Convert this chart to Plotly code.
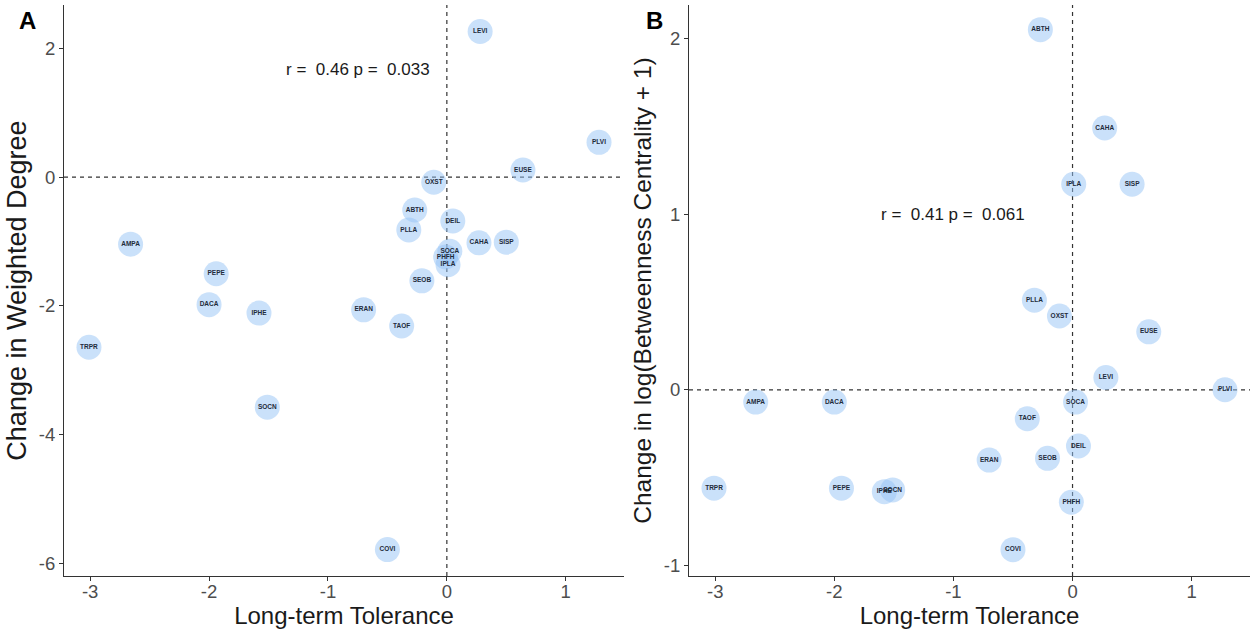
import plotly.graph_objects as go

# Species codes and their long-term tolerance (shared x values)
species = ["TRPR", "AMPA", "DACA", "PEPE", "IPHE", "SOCN", "ERAN", "COVI", "TAOF",
           "PLLA", "ABTH", "SEOB", "OXST", "PHFH", "IPLA", "SOCA", "DEIL", "CAHA",
           "LEVI", "SISP", "EUSE", "PLVI"]
tolerance = [-3.01, -2.66, -2.00, -1.94, -1.58, -1.51, -0.70, -0.50, -0.38,
             -0.32, -0.27, -0.21, -0.11, -0.01, 0.01, 0.025, 0.05, 0.27,
             0.28, 0.50, 0.64, 1.28]

# Panel A: change in weighted degree
weighted_degree_change = [-2.64, -1.04, -1.98, -1.50, -2.11, -3.57, -2.06, -5.78, -2.31,
                          -0.82, -0.51, -1.61, -0.08, -1.24, -1.36, -1.15, -0.68, -1.02,
                          2.26, -1.01, 0.11, 0.54]

# Panel B: change in log(betweenness centrality + 1)
betweenness_change = [-0.56, -0.07, -0.07, -0.56, -0.58, -0.57, -0.40, -0.91, -0.165,
                      0.51, 2.05, -0.39, 0.42, -0.64, 1.17, -0.07, -0.32, 1.49,
                      0.07, 1.17, 0.33, 0.0]

# Tick positions and labels
x_ticks = [-3, -2, -1, 0, 1]
y_ticks_a = [-6, -4, -2, 0, 2]
y_ticks_b = [-1, 0, 1, 2]

stats_a = "r = \u00a00.46 p = \u00a00.033"
stats_b = "r = \u00a00.41 p = \u00a00.061"

FONT = "Liberation Sans"
MARKER_FILL = "rgba(150,195,245,0.5)"
LABEL_COLOR = "#1e2b3a"
AXIS_COLOR = "#333333"
W, H = 1250, 632


def tick_text(values):
    # plain hyphen-minus for negative labels
    return [str(v) for v in values]


fig = go.Figure()

for xa, ya, yvals in [("x", "y", weighted_degree_change), ("x2", "y2", betweenness_change)]:
    fig.add_trace(go.Scatter(
        x=tolerance, y=yvals, mode="markers+text", text=species,
        textposition="middle center",
        textfont=dict(family=FONT, size=6.5, color=LABEL_COLOR, weight="bold"),
        marker=dict(size=25, color=MARKER_FILL, line=dict(width=0)),
        xaxis=xa, yaxis=ya, showlegend=False, hoverinfo="skip",
    ))

axis_common = dict(
    showgrid=False, zeroline=False, showline=True, linecolor=AXIS_COLOR, linewidth=1.2,
    ticks="outside", ticklen=4, tickcolor=AXIS_COLOR, tickwidth=1,
    tickfont=dict(family=FONT, size=18.5, color="#4d4d4d"),
    mirror=False,
)


def title_font(size):
    return dict(family=FONT, size=size, color="#1a1a1a")


x_range = [-3.22, 1.49]
fig.update_layout(
    width=W, height=H,
    margin=dict(l=0, r=0, t=0, b=0),
    paper_bgcolor="white", plot_bgcolor="white",
    xaxis=dict(domain=[0.0512, 0.4992], range=x_range,
               tickvals=x_ticks, ticktext=tick_text(x_ticks), ticklabelstandoff=-5,
               title=dict(text="Long-term Tolerance", font=title_font(24), standoff=2),
               anchor="y", **axis_common),
    yaxis=dict(domain=[0.0886, 0.992], range=[-6.19, 2.67],
               tickvals=y_ticks_a, ticktext=tick_text(y_ticks_a),
               title=dict(text="Change in Weighted Degree", font=title_font(27), standoff=4),
               anchor="x", **axis_common),
    xaxis2=dict(domain=[0.5512, 1.0], range=x_range,
                tickvals=x_ticks, ticktext=tick_text(x_ticks), ticklabelstandoff=-5,
                title=dict(text="Long-term Tolerance", font=title_font(24), standoff=2),
                anchor="y2", **axis_common),
    yaxis2=dict(domain=[0.0886, 0.992], range=[-1.06, 2.19],
                tickvals=y_ticks_b, ticktext=tick_text(y_ticks_b),
                title=dict(text="Change in log(Betweenness Centrality + 1)", font=title_font(24.5), standoff=5),
                anchor="x2", **axis_common),
)

# Dashed reference lines at zero
dash_line = dict(color=AXIS_COLOR, width=1.2, dash="4px,4px")
for xr, yr in [("x", "y"), ("x2", "y2")]:
    fig.add_shape(type="line", xref=xr, yref=f"{yr} domain", x0=0, x1=0, y0=0, y1=1,
                  line=dash_line, layer="below")
    fig.add_shape(type="line", xref=f"{xr} domain", yref=yr, x0=0, x1=1, y0=0, y1=0,
                  line=dash_line, layer="below")

# Correlation annotations
fig.add_annotation(x=-0.75, y=1.67, xref="x", yref="y", text=stats_a, showarrow=False,
                   font=dict(family=FONT, size=17, color="#1a1a1a"))
fig.add_annotation(x=-1.0, y=1.0, xref="x2", yref="y2", text=stats_b, showarrow=False,
                   font=dict(family=FONT, size=17, color="#1a1a1a"))

# Panel letters
for letter, px in [("A", 27), ("B", 654)]:
    fig.add_annotation(x=px / W, y=1 - 21 / H, xref="paper", yref="paper",
                       xanchor="center", yanchor="middle", text=f"<b>{letter}</b>",
                       showarrow=False, font=dict(family=FONT, size=24, color="black"))

fig.write_html("out.html")
